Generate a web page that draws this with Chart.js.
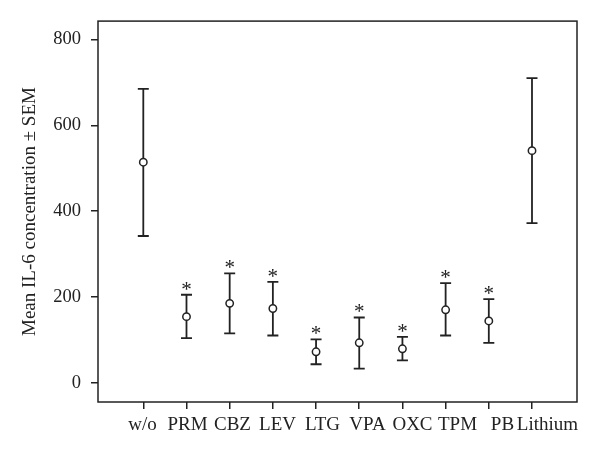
<!DOCTYPE html>
<html>
<head>
<meta charset="utf-8">
<script src="https://cdn.jsdelivr.net/npm/chart.js@4/dist/chart.umd.min.js"></script>
<style>
html, body { margin: 0; padding: 0; background: #fff; }
#wrap { width: 600px; height: 457px; position: relative; }
</style>
</head>
<body>
<div id="wrap"><canvas id="chart"></canvas></div>
<script>
// Groups (treatments) and mean IL-6 concentration with SEM whiskers
var groups = ['w/o', 'PRM', 'CBZ', 'LEV', 'LTG', 'VPA', 'OXC', 'TPM', 'PB', 'Lithium'];
var means = [514, 154, 185, 173, 72, 93, 79, 170, 144, 541];
var upper = [685, 205, 255, 235, 101, 152, 107, 232, 195, 710];
var lower = [342, 104, 115, 110, 43, 33, 52, 110, 93, 372];
var significant = [false, true, true, true, true, true, true, true, true, false];
var yTicks = [0, 200, 400, 600, 800];

var ink = '#222';
var serif = "'Liberation Serif', 'Times New Roman', serif";

function categoryTicks(scale) {
    scale.ticks = groups.map(function (g, i) { return { value: i }; });
}

// Draws the frame, whiskers and asterisks from the data through the scales
var errorBarPlugin = {
    id: 'errorBars',
    beforeDatasetsDraw: function (chart) {
        var ctx = chart.ctx;
        var xs = chart.scales.x;
        var ys = chart.scales.y;
        var area = chart.chartArea;
        var cap = 5.5;

        ctx.save();
        ctx.strokeStyle = ink;
        ctx.lineWidth = 1.5;
        ctx.strokeRect(area.left, area.top, area.right - area.left, area.bottom - area.top);

        ctx.lineWidth = 1.8;
        groups.forEach(function (g, i) {
            var px = xs.getPixelForValue(i);
            var top = ys.getPixelForValue(upper[i]);
            var bot = ys.getPixelForValue(lower[i]);
            ctx.beginPath();
            ctx.moveTo(px, top);
            ctx.lineTo(px, bot);
            ctx.moveTo(px - cap, top);
            ctx.lineTo(px + cap, top);
            ctx.moveTo(px - cap, bot);
            ctx.lineTo(px + cap, bot);
            ctx.stroke();

            if (significant[i]) {
                ctx.fillStyle = ink;
                ctx.font = '21px ' + serif;
                ctx.textAlign = 'center';
                ctx.textBaseline = 'alphabetic';
                ctx.fillText('*', px, top + 1);
            }
        });
        ctx.restore();
    }
};

var ctx = document.getElementById('chart').getContext('2d');

new Chart(ctx, {
    type: 'scatter',
    data: {
        datasets: [{
            data: means.map(function (m, i) { return { x: i, y: m }; }),
            pointRadius: 3.7,
            pointHoverRadius: 3.7,
            pointBorderWidth: 1.5,
            pointBorderColor: ink,
            pointBackgroundColor: '#fff'
        }]
    },
    options: {
        responsive: true,
        maintainAspectRatio: false,
        animation: false,
        layout: {
            padding: { top: 21, right: 23, left: 0, bottom: 0 }
        },
        plugins: {
            legend: { display: false },
            tooltip: { enabled: false }
        },
        scales: {
            x: {
                type: 'linear',
                position: 'bottom',
                weight: 0,
                min: -1.049,
                max: 10.042,
                afterBuildTicks: categoryTicks,
                afterFit: function (scale) { scale.height = 7; },
                ticks: { display: false },
                grid: {
                    drawOnChartArea: false,
                    drawTicks: true,
                    tickLength: 7,
                    color: ink,
                    lineWidth: 1.5
                },
                border: { display: false }
            },
            // second axis only carries the group names (typeset a bit wider than the ticks)
            xl: {
                type: 'linear',
                position: 'bottom',
                weight: 1,
                min: -0.989,
                max: 9.656,
                afterBuildTicks: categoryTicks,
                afterFit: function (scale) { scale.height = 48; },
                ticks: {
                    autoSkip: false,
                    maxRotation: 0,
                    padding: 5,
                    color: ink,
                    font: { family: serif, size: 19 },
                    callback: function (value) { return groups[Math.round(value)]; }
                },
                grid: { display: false, drawTicks: false },
                border: { display: false }
            },
            y: {
                min: -45,
                max: 843,
                afterBuildTicks: function (scale) {
                    scale.ticks = yTicks.map(function (v) { return { value: v }; });
                },
                afterFit: function (scale) { scale.width = 98; },
                ticks: {
                    padding: 10,
                    color: ink,
                    font: { family: serif, size: 18.5 }
                },
                grid: {
                    drawOnChartArea: false,
                    drawTicks: true,
                    tickLength: 7,
                    color: ink,
                    lineWidth: 1.5
                },
                border: { display: false },
                title: {
                    display: true,
                    text: 'Mean IL-6 concentration ± SEM',
                    color: ink,
                    font: { family: serif, size: 19 },
                    padding: { top: 18.6, bottom: 0 }
                }
            }
        }
    },
    plugins: [errorBarPlugin]
});
</script>
</body>
</html>
